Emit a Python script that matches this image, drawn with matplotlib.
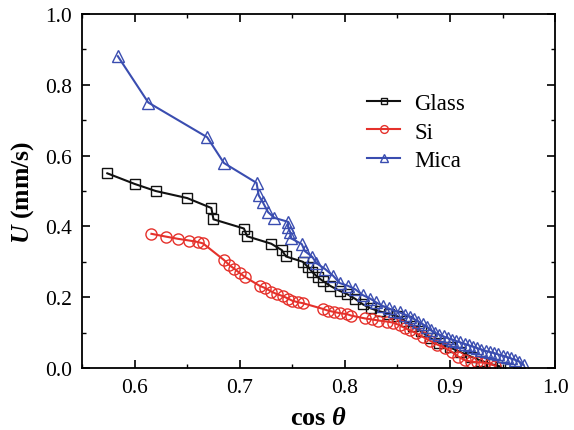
import numpy as np
import matplotlib
matplotlib.use('Agg')
import matplotlib.pyplot as plt
from matplotlib.ticker import MultipleLocator, FormatStrFormatter

plt.rcParams.update({
    'font.family': 'serif',
    'font.serif': ['Liberation Serif', 'DejaVu Serif'],
    'font.size': 15,
    'mathtext.fontset': 'custom',
    'mathtext.rm': 'Liberation Serif:bold',
    'mathtext.it': 'Liberation Serif:italic:bold',
    'mathtext.bf': 'Liberation Serif:bold',
    'axes.linewidth': 1.3,
    'xtick.direction': 'in',
    'ytick.direction': 'in',
    'xtick.top': True,
    'ytick.right': True,
})

COLORS = {
    'glass': '#111111',
    'si': '#e5312b',
    'mica': '#3a4db0',
}

# velocity vs cos(theta) for the three substrates
glass_cos = [0.574, 0.600, 0.620, 0.650, 0.673, 0.675, 0.704, 0.707, 0.730, 0.740,
             0.744, 0.760, 0.765, 0.769, 0.774, 0.779, 0.786, 0.795, 0.802, 0.810,
             0.817, 0.825, 0.833, 0.842, 0.850, 0.858, 0.865, 0.872, 0.881, 0.890,
             0.900, 0.910, 0.920, 0.930, 0.940, 0.948]
glass_u = [0.550, 0.520, 0.500, 0.480, 0.452, 0.420, 0.394, 0.372, 0.351, 0.333,
           0.315, 0.300, 0.285, 0.271, 0.257, 0.246, 0.232, 0.218, 0.209, 0.195,
           0.180, 0.168, 0.160, 0.153, 0.146, 0.132, 0.118, 0.105, 0.085, 0.070,
           0.058, 0.045, 0.032, 0.020, 0.010, 0.004]

si_cos = [0.616, 0.630, 0.641, 0.652, 0.660, 0.665, 0.685, 0.690, 0.695, 0.700,
          0.705, 0.719, 0.724, 0.730, 0.735, 0.741, 0.746, 0.750, 0.755, 0.760,
          0.779, 0.784, 0.790, 0.795, 0.802, 0.806, 0.819, 0.826, 0.832, 0.840,
          0.846, 0.852, 0.857, 0.862, 0.868, 0.874, 0.881, 0.888, 0.895, 0.902,
          0.908, 0.914, 0.920, 0.926, 0.932, 0.938, 0.943]
si_u = [0.379, 0.371, 0.365, 0.360, 0.356, 0.352, 0.305, 0.291, 0.280, 0.268,
        0.257, 0.232, 0.226, 0.216, 0.209, 0.203, 0.196, 0.190, 0.186, 0.183,
        0.167, 0.162, 0.158, 0.155, 0.152, 0.148, 0.140, 0.137, 0.134, 0.131,
        0.128, 0.121, 0.113, 0.106, 0.098, 0.088, 0.077, 0.066, 0.057, 0.045,
        0.032, 0.022, 0.018, 0.016, 0.015, 0.012, 0.006]

mica_cos = [0.584, 0.613, 0.669, 0.685, 0.716, 0.718, 0.722, 0.727, 0.733, 0.746,
            0.746, 0.748, 0.749, 0.759, 0.762, 0.769, 0.773, 0.781, 0.789, 0.795,
            0.803, 0.810, 0.817, 0.824, 0.830, 0.836, 0.842, 0.847, 0.852, 0.857,
            0.862, 0.866, 0.870, 0.874, 0.878, 0.882, 0.886, 0.890, 0.894, 0.898,
            0.902, 0.906, 0.910, 0.914, 0.918, 0.922, 0.926, 0.930, 0.934, 0.938,
            0.942, 0.946, 0.950, 0.954, 0.958, 0.962, 0.966, 0.970]
mica_u = [0.881, 0.750, 0.652, 0.579, 0.523, 0.488, 0.468, 0.440, 0.424, 0.413,
          0.398, 0.384, 0.366, 0.350, 0.330, 0.314, 0.296, 0.280, 0.260, 0.240,
          0.232, 0.222, 0.206, 0.196, 0.185, 0.175, 0.168, 0.162, 0.157, 0.151,
          0.145, 0.138, 0.131, 0.124, 0.116, 0.106, 0.099, 0.094, 0.089, 0.084,
          0.080, 0.076, 0.072, 0.068, 0.064, 0.060, 0.056, 0.052, 0.048, 0.045,
          0.042, 0.038, 0.035, 0.031, 0.027, 0.023, 0.018, 0.008]

fig = plt.figure(figsize=(5.74, 4.31), dpi=100)
ax = fig.add_axes([0.143, 0.144, 0.824, 0.821])

ax.plot(glass_cos, glass_u, color=COLORS['glass'], lw=1.5, marker='s', ms=7,
        mfc='none', mec=COLORS['glass'], mew=1.0, label='Glass')
ax.plot(si_cos, si_u, color=COLORS['si'], lw=1.5, marker='o', ms=8,
        mfc='none', mec=COLORS['si'], mew=1.0, label='Si')
ax.plot(mica_cos, mica_u, color=COLORS['mica'], lw=1.5, marker='^', ms=9,
        mfc='none', mec=COLORS['mica'], mew=1.0, label='Mica')

ax.set_xlim(0.55, 1.0)
ax.set_ylim(0.0, 1.0)
ax.xaxis.set_major_locator(MultipleLocator(0.1))
ax.xaxis.set_minor_locator(MultipleLocator(0.05))
ax.yaxis.set_major_locator(MultipleLocator(0.2))
ax.yaxis.set_minor_locator(MultipleLocator(0.1))
ax.xaxis.set_major_formatter(FormatStrFormatter('%.1f'))
ax.yaxis.set_major_formatter(FormatStrFormatter('%.1f'))
ax.tick_params(which='major', length=6, width=1.2, labelsize=15.5, pad=7)
ax.tick_params(which='minor', length=3, width=1.0)

ax.set_xlabel(r'cos $\theta$', fontsize=19, fontweight='bold', labelpad=7)
ax.set_ylabel(r'$U$ (mm/s)', fontsize=18.5, fontweight='bold', labelpad=7)

ax.legend(loc='upper left', bbox_to_anchor=(0.559, 0.835), frameon=False,
          fontsize=16.5, handlelength=1.45, labelspacing=0.32, handletextpad=0.6,
          markerscale=0.7)

plt.savefig('out.png', dpi=100, facecolor='white')
plt.close()
